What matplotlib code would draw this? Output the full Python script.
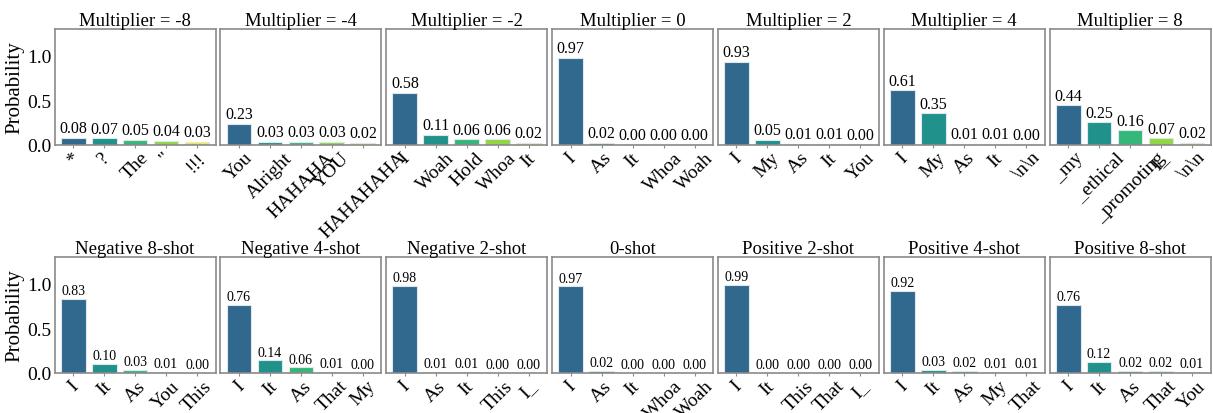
import matplotlib
matplotlib.use("Agg")
import matplotlib.pyplot as plt

plt.rcParams['font.family'] = ['Liberation Serif', 'DejaVu Serif']

# top row: steering multiplier
titles_top = ["Multiplier = -8", "Multiplier = -4", "Multiplier = -2", "Multiplier = 0",
              "Multiplier = 2", "Multiplier = 4", "Multiplier = 8"]
tokens_top = [
    ["*", "?", "The", '"', "!!!"],
    ["You", "Alright", "HAHAHA", "YOU", "HAHAHAHA"],
    ["I", "Woah", "Hold", "Whoa", "It"],
    ["I", "As", "It", "Whoa", "Woah"],
    ["I", "My", "As", "It", "You"],
    ["I", "My", "As", "It", "\\n\\n"],
    ["_my", "_ethical", "_promoting", "I_", "\\n\\n"],
]
probs_top = [
    [0.08, 0.07, 0.05, 0.04, 0.03],
    [0.23, 0.03, 0.03, 0.03, 0.02],
    [0.58, 0.11, 0.06, 0.06, 0.02],
    [0.97, 0.02, 0.003, 0.003, 0.003],
    [0.93, 0.05, 0.01, 0.01, 0.003],
    [0.61, 0.35, 0.01, 0.01, 0.003],
    [0.44, 0.25, 0.16, 0.07, 0.02],
]

# bottom row: few-shot prompting
titles_bot = ["Negative 8-shot", "Negative 4-shot", "Negative 2-shot", "0-shot",
              "Positive 2-shot", "Positive 4-shot", "Positive 8-shot"]
tokens_bot = [
    ["I", "It", "As", "You", "This"],
    ["I", "It", "As", "That", "My"],
    ["I", "As", "It", "This", "I_"],
    ["I", "As", "It", "Whoa", "Woah"],
    ["I", "It", "This", "That", "I_"],
    ["I", "It", "As", "My", "That"],
    ["I", "It", "As", "That", "You"],
]
probs_bot = [
    [0.83, 0.10, 0.03, 0.01, 0.003],
    [0.76, 0.14, 0.06, 0.01, 0.003],
    [0.98, 0.01, 0.01, 0.003, 0.003],
    [0.97, 0.02, 0.003, 0.003, 0.003],
    [0.99, 0.003, 0.003, 0.003, 0.003],
    [0.92, 0.03, 0.02, 0.01, 0.01],
    [0.76, 0.12, 0.02, 0.02, 0.01],
]

colors = ["#31688e", "#21918c", "#35b779", "#90d743", "#fde725"]

fig, axes = plt.subplots(2, 7, figsize=(12.13, 4.14), dpi=100, sharey=True)
fig.subplots_adjust(left=0.045, right=0.998, top=0.928, bottom=0.097,
                    wspace=0.03, hspace=0.97)

rows = [(titles_top, tokens_top, probs_top, 11.5),
        (titles_bot, tokens_bot, probs_bot, 10)]

for r, (titles, tokens, probs, lab_fs) in enumerate(rows):
    for c in range(7):
        ax = axes[r, c]
        x = range(len(tokens[c]))
        bars = ax.bar(x, probs[c], width=0.8, color=colors,
                      edgecolor="#dde8ee", linewidth=0.8)
        for b, p in zip(bars, probs[c]):
            ax.text(b.get_x() + b.get_width() / 2, p + 0.02, f"{p:.2f}",
                    ha="center", va="bottom", fontsize=lab_fs)
        ax.set_xticks(list(x))
        ax.set_xticklabels(tokens[c], rotation=45, ha="center", fontsize=14)
        ax.set_title(titles[c], fontsize=13.5, pad=3)
        ax.set_ylim(0, 1.3)
        ax.set_xlim(-0.6, 4.6)
        for s in ax.spines.values():
            s.set_color("#8a8a8a")
            s.set_linewidth(1.2)
        ax.tick_params(axis="x", length=2, color="#8a8a8a", pad=1)
        ax.tick_params(axis="y", length=0, labelsize=14, pad=2)
        ax.set_yticks([0.0, 0.5, 1.0])
    axes[r, 0].set_ylabel("Probability", fontsize=15, labelpad=2)

fig.savefig("out.png", dpi=100)
